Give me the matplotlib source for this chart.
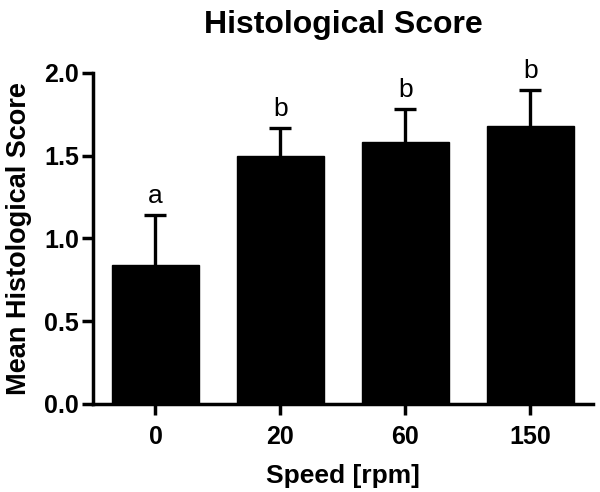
import matplotlib
matplotlib.use("Agg")
import matplotlib.pyplot as plt
import numpy as np

categories = ["0", "20", "60", "150"]
means = [0.84, 1.50, 1.58, 1.68]
sem = [0.30, 0.167, 0.20, 0.22]
letters = ["a", "b", "b", "b"]
yticks = [0.0, 0.5, 1.0, 1.5, 2.0]

plt.rcParams['font.family'] = ['Liberation Sans', 'DejaVu Sans']

fig = plt.figure(figsize=(6, 4.92), dpi=100)
ax = fig.add_axes([0.155, 0.1789, 0.8333, 0.6728])

x = np.arange(len(categories))
ax.bar(x, means, width=0.7, color='black', edgecolor='black', zorder=2)
eb = ax.errorbar(x, means, yerr=[np.zeros(len(sem)), sem], fmt='none', ecolor='black',
                 elinewidth=2.4, capsize=8, capthick=2.4, zorder=1)
# hide the lower caps (they sit at the bar tops)
eb[1][0].set_visible(False)

for xi, m, s, l in zip(x, means, sem, letters):
    ax.annotate(l, (xi, m + s), xytext=(0, 5), textcoords='offset points',
                ha='center', va='bottom', fontsize=19, clip_on=False)

ax.set_xlim(-0.5, len(categories) - 0.5)
ax.set_ylim(0, 2.0)
ax.set_xticks(x)
ax.set_xticklabels(categories, fontsize=18, fontweight='bold')
ax.set_yticks(yticks)
ax.set_yticklabels([f"{t:.1f}" for t in yticks], fontsize=18, fontweight='bold')
ax.tick_params(axis='y', width=2.5, length=8, pad=2)
ax.tick_params(axis='x', width=2.5, length=8, pad=7)

for side in ['top', 'right']:
    ax.spines[side].set_visible(False)
for side in ['left', 'bottom']:
    ax.spines[side].set_linewidth(2.5)

ax.set_xlabel("Speed [rpm]", fontsize=19, fontweight='bold', labelpad=11)
ax.set_ylabel("Mean Histological Score", fontsize=19.5, fontweight='bold', labelpad=9)
ax.set_title("Histological Score", fontsize=23, fontweight='bold', pad=29)

fig.savefig("out.png", dpi=100)
